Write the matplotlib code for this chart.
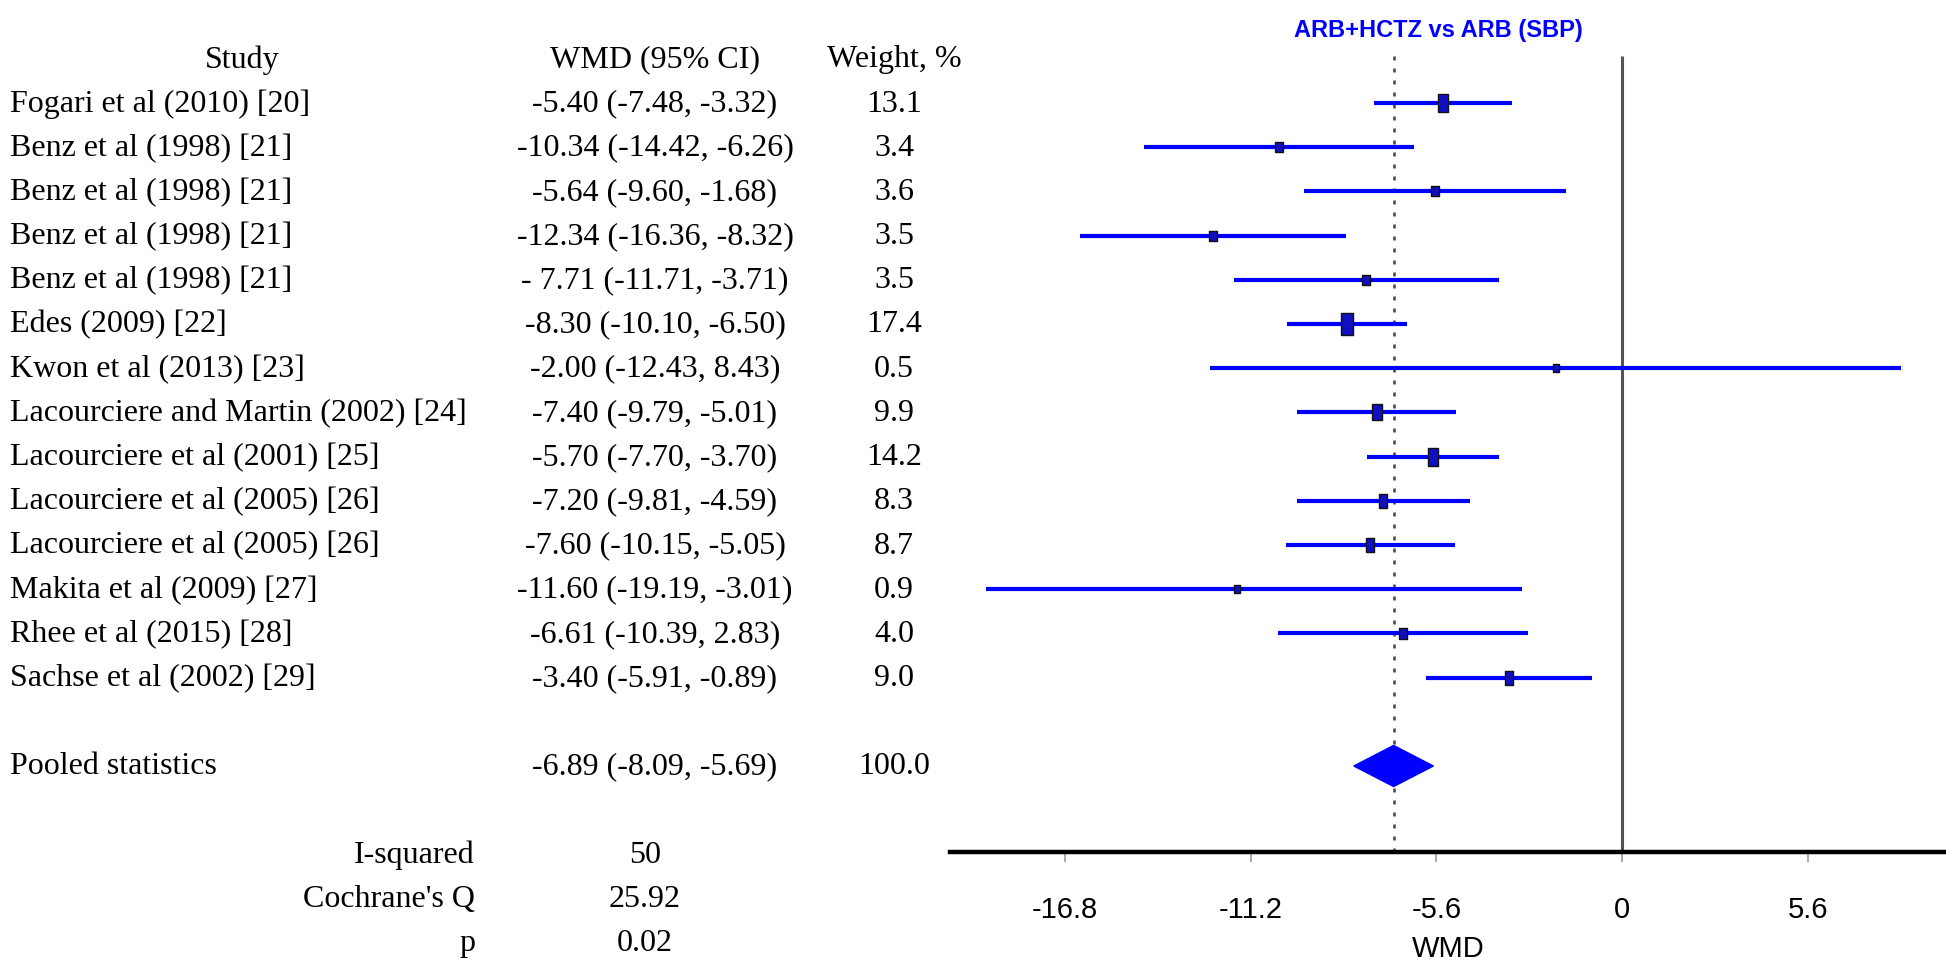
import numpy as np
import matplotlib
matplotlib.use('Agg')
import matplotlib.pyplot as plt
from matplotlib import transforms

plt.rcParams['axes.unicode_minus'] = False

# study data
studies = ['Fogari et al (2010) [20]', 'Benz et al (1998) [21]', 'Benz et al (1998) [21]',
           'Benz et al (1998) [21]', 'Benz et al (1998) [21]', 'Edes (2009) [22]',
           'Kwon et al (2013) [23]', 'Lacourciere and Martin (2002) [24]',
           'Lacourciere et al (2001) [25]', 'Lacourciere et al (2005) [26]',
           'Lacourciere et al (2005) [26]', 'Makita et al (2009) [27]',
           'Rhee et al (2015) [28]', 'Sachse et al (2002) [29]']
wmd = [-5.40, -10.34, -5.64, -12.34, -7.71, -8.30, -2.00, -7.40, -5.70, -7.20, -7.60, -11.60, -6.61, -3.40]
lo = [-7.48, -14.42, -9.60, -16.36, -11.71, -10.10, -12.43, -9.79, -7.70, -9.81, -10.15, -19.19, -10.39, -5.91]
hi = [-3.32, -6.26, -1.68, -8.32, -3.71, -6.50, 8.43, -5.01, -3.70, -4.59, -5.05, -3.01, -2.83, -0.89]
weight = [13.1, 3.4, 3.6, 3.5, 3.5, 17.4, 0.5, 9.9, 14.2, 8.3, 8.7, 0.9, 4.0, 9.0]
wmd_text = ['-5.40 (-7.48, -3.32)', '-10.34 (-14.42, -6.26)', '-5.64 (-9.60, -1.68)',
            '-12.34 (-16.36, -8.32)', '- 7.71 (-11.71, -3.71)', '-8.30 (-10.10, -6.50)',
            '-2.00 (-12.43, 8.43)', '-7.40 (-9.79, -5.01)', '-5.70 (-7.70, -3.70)',
            '-7.20 (-9.81, -4.59)', '-7.60 (-10.15, -5.05)', '-11.60 (-19.19, -3.01)',
            '-6.61 (-10.39, 2.83)', '-3.40 (-5.91, -0.89)']

pooled = -6.89
pooled_lo = -8.09
pooled_hi = -5.69
pooled_text = '-6.89 (-8.09, -5.69)'
pooled_weight = '100.0'

stat_names = ['I-squared', "Cochrane's Q", 'p']
stat_values = ['50', '25.92', '0.02']

xticks = [-16.8, -11.2, -5.6, 0, 5.6]

W, H = 1946, 962
fig = plt.figure(figsize=(W / 100, H / 100), dpi=100)
ax = fig.add_axes([950 / W, 1 - 853 / H, 1 - 950 / W, 853 / H])

row_top = 104.0
row_h = 44.2
ax.set_xlim((950 - 1622) / 33.15, (1946 - 1622) / 33.15)
ax.set_ylim((853 - row_top) / row_h, -row_top / row_h)

rows = np.arange(len(studies))
blue = '#0000ff'

# reference lines
top_row = (57 - row_top) / row_h
ax.vlines(0, top_row, 20, color='#555555', lw=2.2, zorder=1)
ax.vlines(pooled, top_row, 20, color='#444444', lw=1.8, linestyles=(0, (1.6, 3.2)), zorder=1)

# confidence intervals and weight boxes
ax.hlines(rows, lo, hi, color=blue, lw=3, zorder=2)
for r, x, w in zip(rows, wmd, weight):
    h_px = 8 + 0.75 * w
    w_px = 6 + 0.32 * w
    a = w_px / h_px
    verts = [(-a / 2, -0.5), (a / 2, -0.5), (a / 2, 0.5), (-a / 2, 0.5), (-a / 2, -0.5)]
    ax.plot(x, r, marker=verts, markersize=h_px * 0.72, color='#1010c0',
            markeredgecolor='#111111', markeredgewidth=1.0, zorder=3)

# pooled diamond
pr = 15
dh = 0.465
ax.fill([pooled_lo, pooled, pooled_hi, pooled], [pr, pr - dh, pr, pr + dh], color=blue, zorder=3)

# axis styling
sans = ['Liberation Sans', 'DejaVu Sans']
for s in ['left', 'right', 'top']:
    ax.spines[s].set_visible(False)
ax.spines['bottom'].set_linewidth(3.2)
ax.set_yticks([])
ax.set_xticks(xticks)
ax.set_xticklabels(['%g' % t for t in xticks], family=sans, fontsize=21)
ax.tick_params(axis='x', length=7, width=1.2, color='#999999', pad=24)
ax.set_xlabel('WMD', family=sans, fontsize=21, labelpad=8)
ax.text(0.49, 1 - 30 / 853, 'ARB+HCTZ vs ARB (SBP)', transform=ax.transAxes, ha='center', va='center',
        color=blue, fontsize=17, fontweight='bold', family=sans)

# table text
tr = transforms.blended_transform_factory(fig.transFigure, ax.transData)
serif = ['Liberation Serif', 'DejaVu Serif']
fs = 23
kw = dict(transform=tr, va='center', fontsize=fs, family=serif, clip_on=False)
x_study = 10 / W
x_study_head = 242 / W
x_wmd = 655 / W
x_wt = 894 / W

fig.text(x_study_head, -1, 'Study', ha='center', **kw)
fig.text(x_wmd, -1, 'WMD (95% CI)', ha='center', **kw)
fig.text(x_wt, -1, 'Weight, %', ha='center', **kw)

for r, name, t, w in zip(rows, studies, wmd_text, weight):
    fig.text(x_study, r, name, ha='left', **kw)
    fig.text(x_wmd, r, t, ha='center', **kw)
    fig.text(x_wt, r, '%.1f' % w, ha='center', **kw)

fig.text(x_study, pr, 'Pooled statistics', ha='left', **kw)
fig.text(x_wmd, pr, pooled_text, ha='center', **kw)
fig.text(x_wt, pr, pooled_weight, ha='center', **kw)

for i, (n, v) in enumerate(zip(stat_names, stat_values)):
    fig.text(475 / W, 17 + i, n, ha='right', **kw)
    fig.text(645 / W, 17 + i, v, ha='center', **kw)

fig.savefig('out.png', dpi=100)
